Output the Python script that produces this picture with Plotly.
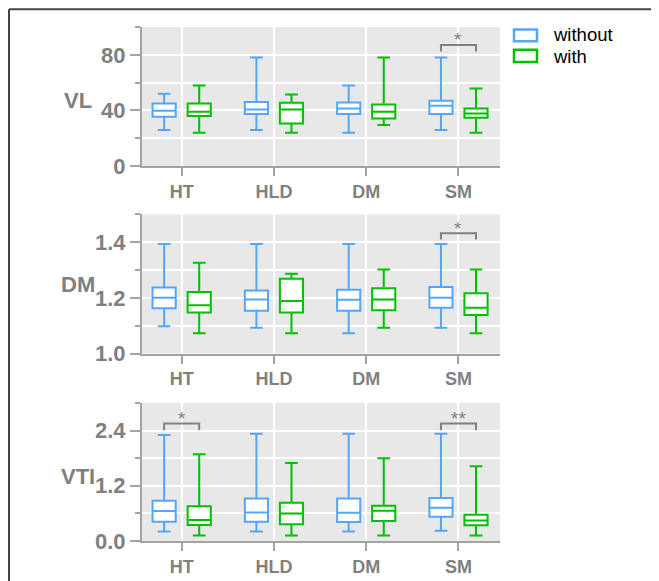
import plotly.graph_objects as go
from plotly.subplots import make_subplots

# ---------------- data ----------------
categories = ["HT", "HLD", "DM", "SM"]
groups = ["without", "with"]

# VL panel: quartiles and whisker ends per category
vl_without_low = [26, 26, 24, 26]
vl_without_q1 = [35.5, 37.4, 37.4, 37.4]
vl_without_med = [39.8, 40.7, 41.4, 43.3]
vl_without_q3 = [45, 46, 45.7, 46.9]
vl_without_high = [52, 78, 58, 78]

vl_with_low = [24, 24, 29.5, 24]
vl_with_q1 = [36, 30.7, 34.3, 34.8]
vl_with_med = [39, 40.7, 39, 37.9]
vl_with_q3 = [45, 45.5, 44.3, 41.4]
vl_with_high = [58, 51.4, 78, 55.7]

# DM panel
dm_without_low = [1.098, 1.093, 1.073, 1.093]
dm_without_q1 = [1.163, 1.154, 1.154, 1.165]
dm_without_med = [1.201, 1.194, 1.193, 1.201]
dm_without_q3 = [1.237, 1.227, 1.229, 1.239]
dm_without_high = [1.394, 1.394, 1.394, 1.394]

dm_with_low = [1.073, 1.073, 1.093, 1.073]
dm_with_q1 = [1.148, 1.148, 1.156, 1.139]
dm_with_med = [1.174, 1.189, 1.194, 1.165]
dm_with_q3 = [1.221, 1.269, 1.235, 1.217]
dm_with_high = [1.326, 1.287, 1.302, 1.302]

# VTI panel
vti_without_low = [0.207, 0.207, 0.207, 0.221]
vti_without_q1 = [0.42, 0.42, 0.414, 0.529]
vti_without_med = [0.65, 0.621, 0.614, 0.721]
vti_without_q3 = [0.872, 0.921, 0.921, 0.936]
vti_without_high = [2.30, 2.33, 2.33, 2.33]

vti_with_low = [0.121, 0.121, 0.121, 0.121]
vti_with_q1 = [0.35, 0.364, 0.436, 0.343]
vti_with_med = [0.457, 0.6, 0.657, 0.443]
vti_with_q3 = [0.757, 0.829, 0.764, 0.571]
vti_with_high = [1.886, 1.693, 1.8, 1.621]

panel_titles = ["VL", "DM", "VTI"]

# significance marks: (panel index, category, label)
sig_panels = [0, 1, 2, 2]
sig_categories = ["SM", "SM", "HT", "SM"]
sig_labels = ["*", "*", "*", "**"]

# ---------------- styles ----------------
BLUE = "#55a6fb"
GREEN = "#00c000"
GREY_TXT = "#808080"
AXIS = "#a3a3a3"
PLOT_BG = "#e8e8e8"
FONT = "Liberation Sans, Arial"

panels = [
    dict(without=(vl_without_q1, vl_without_med, vl_without_q3, vl_without_low, vl_without_high),
         with_=(vl_with_q1, vl_with_med, vl_with_q3, vl_with_low, vl_with_high),
         rng=[0, 100], dtick=40, minor=20, fmt="d", bracket=(82.4, 87.1), title_y=0.47),
    dict(without=(dm_without_q1, dm_without_med, dm_without_q3, dm_without_low, dm_without_high),
         with_=(dm_with_q1, dm_with_med, dm_with_q3, dm_with_low, dm_with_high),
         rng=[1.0, 1.5], dtick=0.2, minor=0.1, fmt=".1f", bracket=(1.41, 1.432), title_y=0.5),
    dict(without=(vti_without_q1, vti_without_med, vti_without_q3, vti_without_low, vti_without_high),
         with_=(vti_with_q1, vti_with_med, vti_with_q3, vti_with_low, vti_with_high),
         rng=[0, 3.0], dtick=1.2, minor=0.6, fmt=".1f", bracket=(2.407, 2.55), title_y=0.47),
]

# page is rendered with an 8px body margin; target positions are in page pixels
OFF = 8
W, H = 659, 581
ML = 142 - OFF
PW = 358
MR = W - ML - PW
MT = 27 - OFF
MB = H - (548 - OFF)
plot_h = H - MT - MB


def py(page_y):
    return (H - MB - (page_y - OFF)) / plot_h


def pxx(page_x):
    return (page_x - OFF - ML) / PW


domains = [[py(168), py(27)], [py(358), py(217)], [py(548), py(408)]]

fig = make_subplots(rows=3, cols=1)

for i, p in enumerate(panels):
    for name, stats, color in (("without", p["without"], BLUE), ("with", p["with_"], GREEN)):
        q1, med, q3, lo, hi = stats
        fig.add_trace(go.Box(
            x=categories, q1=q1, median=med, q3=q3, lowerfence=lo, upperfence=hi,
            name=name, legendgroup=name, showlegend=False, boxpoints=False,
            line=dict(color=color, width=2), fillcolor="white", whiskerwidth=0.55,
            offsetgroup=name,
        ), row=i + 1, col=1)

axis_common = dict(
    showline=True, linecolor=AXIS, linewidth=2, ticks="outside", tickcolor=AXIS,
    tickwidth=2, showgrid=True, gridcolor="white", gridwidth=2, zeroline=False,
    mirror=False,
)

for i, p in enumerate(panels):
    n = "" if i == 0 else str(i + 1)
    fig.layout["xaxis" + n].update(
        **axis_common, type="category", categoryorder="array", categoryarray=categories,
        range=[-0.43, 3.45], ticklen=8,
        tickfont=dict(family=FONT, size=18, color=GREY_TXT, weight="bold"),
        domain=[0, 1],
    )
    fig.layout["yaxis" + n].update(
        **axis_common, range=p["rng"], tick0=p["rng"][0], dtick=p["dtick"], ticklen=10,
        tickformat=p["fmt"], domain=domains[i],
        tickfont=dict(family=FONT, size=22, color=GREY_TXT, weight="bold"),
        minor=dict(dtick=p["minor"], tick0=p["rng"][0], ticks="outside", ticklen=5,
                   tickcolor=AXIS, tickwidth=2, showgrid=True, gridcolor="white", gridwidth=2),
    )
    fig.add_annotation(
        text=panel_titles[i], xref="paper", x=pxx(77.5), xanchor="center",
        yref=f"y{n} domain", y=p["title_y"], yanchor="middle", showarrow=False,
        font=dict(family=FONT, size=22, color=GREY_TXT, weight="bold"),
    )

# significance brackets
for pi, cat, lab in zip(sig_panels, sig_categories, sig_labels):
    n = "" if pi == 0 else str(pi + 1)
    idx = categories.index(cat)
    x0, x1 = idx - 0.19, idx + 0.19
    ylo, yhi = panels[pi]["bracket"]
    fig.add_shape(type="path", xref=f"x{n}", yref=f"y{n}",
                  path=f"M {x0},{ylo} L {x0},{yhi} L {x1},{yhi} L {x1},{ylo}",
                  line=dict(color=GREY_TXT, width=2))
    fig.add_annotation(text=lab, xref=f"x{n}", yref=f"y{n}", x=idx, y=yhi,
                       yanchor="middle", yshift=5, showarrow=False,
                       font=dict(family=FONT, size=19, color=GREY_TXT))

# legend drawn manually
leg = [("without", BLUE, 29.5, 41.5, 35), ("with", GREEN, 50, 62.5, 56.5)]
for name, color, ytop, ybot, ytxt in leg:
    fig.add_shape(type="rect", xref="paper", yref="paper",
                  x0=pxx(514), x1=pxx(537), y0=py(ybot), y1=py(ytop),
                  line=dict(color=color, width=2.5), fillcolor="white")
    fig.add_annotation(text=name, xref="paper", yref="paper", x=pxx(551), y=py(ytxt),
                       xanchor="left", yanchor="middle", showarrow=False,
                       font=dict(family=FONT, size=18.5, color="black"))

# outer frame (top and left edges)
fig.add_shape(type="line", xref="paper", yref="paper", x0=pxx(9), x1=pxx(700),
              y0=py(9), y1=py(9), line=dict(color="#444444", width=2))
fig.add_shape(type="line", xref="paper", yref="paper", x0=pxx(9), x1=pxx(9),
              y0=py(9), y1=py(620), line=dict(color="#444444", width=2))

fig.update_layout(
    width=W, height=H, margin=dict(l=ML, r=MR, t=MT, b=MB),
    paper_bgcolor="white", plot_bgcolor=PLOT_BG,
    boxmode="group", boxgap=0.24, boxgroupgap=0.34,
    showlegend=False,
    font=dict(family=FONT),
)

fig.write_html("out.html")
